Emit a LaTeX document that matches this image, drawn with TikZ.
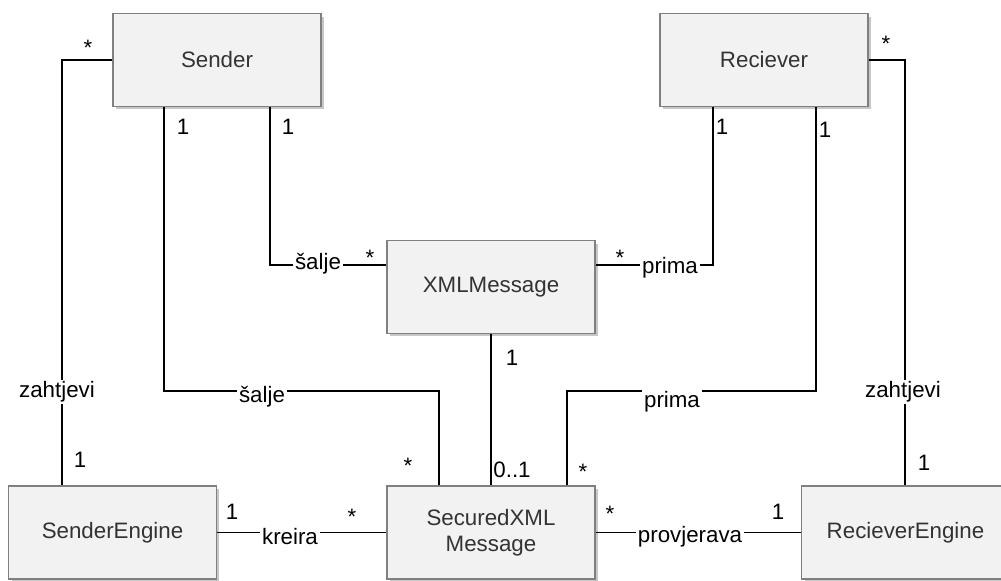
\documentclass[tikz,border=0pt]{standalone}
\usepackage{fontspec}
\setmainfont{Liberation Sans}
\usetikzlibrary{calc,shadows}
\definecolor{boxfill}{HTML}{F2F2F2}
\definecolor{boxline}{HTML}{808080}
\definecolor{boxtext}{HTML}{333333}

\begin{document}
\begin{tikzpicture}[x=0.02cm,y=-0.02cm,
		cls/.style={draw=boxline, line width=1.1pt, fill=boxfill, text=boxtext, minimum width=4.16cm, minimum height=1.86cm, align=center, font=\fontsize{12.7}{15}\selectfont, drop shadow={shadow xshift=0.06cm, shadow yshift=-0.06cm, fill=black!22, opacity=1}},
		conn/.style={line width=1.1pt},
		lbl/.style={fill=white, inner sep=1pt, font=\fontsize{12.7}{15}\selectfont},
		mult/.style={inner sep=0pt, font=\fontsize{12.7}{15}\selectfont}]
				\useasboundingbox (0,0) rectangle (1001,581);
				
				\node[cls] (snd) at (217,60) {Sender};
				\node[cls] (rcv) at (764,60) {Reciever};
				\node[cls] (xml) at (491,287) {XMLMessage};
				\node[cls] (seng) at (112.5,532.5) {SenderEngine};
				\node[cls] (sec) at (491,532.5) {SecuredXML\\Message};
				\node[cls] (reng) at (905.5,532.5) {RecieverEngine};
				
				\draw[conn] (snd.west) -| ($(seng.north west)+(54,0)$);
				\draw[conn] ($(snd.south west)+(52,0)$) -- ++(0,284) -| ($(sec.north west)+(53,0)$);
				\draw[conn] ($(snd.south)+(53,0)$) |- ($(xml.west)+(0,-22)$);
				\draw[conn] ($(rcv.south)+(-51,0)$) |- ($(xml.east)+(0,-22)$);
				\draw[conn] ($(rcv.south)+(52,0)$) -- ++(0,284) -| ($(sec.north)+(76,0)$);
				\draw[conn] (rcv.east) -| ($(reng.north west)+(104,0)$);
				\draw[conn] (xml.south) -- (sec.north);
				\draw[conn] (seng.east) -- (sec.west);
				\draw[conn] (sec.east) -- (reng.west);
				
				% association names
				\node[lbl] (l1) at (57,392) {zahtjevi};
				\node[lbl] (l2) at (262,397) {šalje};
				\node[lbl] (l3) at (318,264) {šalje};
				\node[lbl] (l4) at (670,268) {prima};
				\node[lbl] (l5) at (672,402) {prima};
				\node[lbl] (l6) at (903,392) {zahtjevi};
				\node[lbl] (l7) at (290,537) {kreira};
				\node[lbl] (l8) at (690,537) {provjerava};
				
				% multiplicities
				\node[mult] (m1) at (88,48) {*};
				\node[mult] (m2) at (80,460) {1};
				\node[mult] (m3) at (183,127) {1};
				\node[mult] (m4) at (408,466) {*};
				\node[mult] (m5) at (288,127) {1};
				\node[mult] (m6) at (370,258) {*};
				\node[mult] (m7) at (722,127) {1};
				\node[mult] (m8) at (620,258) {*};
				\node[mult] (m9) at (825,130) {1};
				\node[mult] (m10) at (583,472) {*};
				\node[mult] (m11) at (886,44) {*};
				\node[mult] (m12) at (924,463) {1};
				\node[mult] (m13) at (512,358) {1};
				\node[mult] (m14) at (512,470) {0..1};
				\node[mult] (m15) at (232,512) {1};
				\node[mult] (m16) at (352,517) {*};
				\node[mult] (m17) at (610,514) {*};
				\node[mult] (m18) at (778,512) {1};
			\end{tikzpicture}
\end{document}
